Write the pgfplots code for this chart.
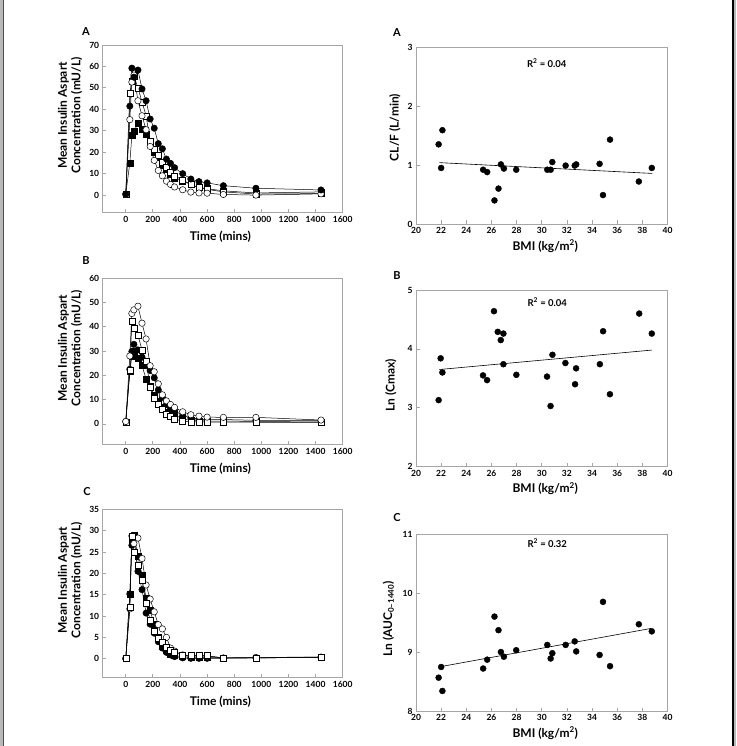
\documentclass[border=0pt]{standalone}
\usepackage{fontspec}
\setmainfont{Lato}
\usepackage{pgfplots}
\usepackage{pgfplotstable}
\pgfplotsset{compat=1.18}

% concentration-time data (mU/L)
\pgfplotstableread{
t fc oc fs os
0 0.5 0.3 0.5 0.5
30 41.5 35.2 15 47.3
45 59.2 52.7 27.8 53
60 55 56 29.8 55.5
90 58.3 44 33.3 50
120 49.5 37 30.5 43.5
150 44 30.5 28.5 37
180 35.5 22.7 24.5 25
210 31.2 16.2 20 21.5
240 24 11.5 17.5 18.5
270 21.6 9 14 15.5
300 16.8 6.5 12 13
330 14.8 5 9.5 10.8
360 12.8 3.8 7.8 9
420 10 2.5 6.5 7
480 7.5 1.4 5 5
540 6.3 1 3.5 3.5
600 5.7 0.9 3 2.7
720 4.4 0.3 2 1.5
960 3.2 0 1 0.5
1440 2.4 0.6 1.5 0.7
}\concA
\pgfplotstableread{
t fc oc fs os
0 1 1 0.8 0.7
30 22.5 28 21.5 22
45 29.8 45.5 28 42.5
60 32.8 47 30 39.5
90 30.5 48.5 27 36.5
120 27.5 41.5 24 30.5
150 24 35 18.5 26
180 22 24 15.5 15
210 19 21.5 12 10.5
240 14 16.5 9.5 8
270 11 12 7 6
300 8 9.5 5 4
330 6.5 8 4.5 3
360 5.5 6.8 3.8 2
420 3.5 5 2 1.2
480 2.5 3.8 1.5 0.8
540 2 3.2 1.3 0.8
600 1.8 2.8 1.2 0.8
720 1.8 2.7 1.2 0.7
960 1.5 2.7 1 0.7
1440 1.3 1.6 0.8 0.5
}\concB
\pgfplotstableread{
t fc oc fs os
0 0 0.1 0 0.1
30 15.2 11.7 15.2 12
45 26.6 28.8 27 28.8
60 28.9 27 29 25
90 20.5 28.3 24 22
120 16.2 23.5 19.5 18.5
150 10.7 17.3 14.2 13
180 8.1 14 11.3 9
210 6 11 8 6.5
240 4 8 5 4.8
270 2.5 7 3 3.8
300 1.5 5 2 2.8
330 0.9 2.5 1 2
360 0.5 1.8 0.7 1.5
420 0.2 0.9 0.5 0.8
480 0.1 0.6 0.3 0.7
540 0.1 0.7 0.4 0.8
600 0.1 0.6 0.3 0.7
720 0.1 0.2 0.2 0.2
960 0.2 0.3 0.2 0.2
1440 0.3 0.4 0.3 0.4
}\concC

% BMI scatter data
\pgfplotstableread{
bmi cl
21.8 1.35
22.0 0.95
22.1 1.59
25.34 0.92
25.66 0.88
26.24 0.40
26.56 0.60
26.75 1.01
26.99 0.94
27.97 0.92
30.44 0.92
30.71 0.92
30.84 1.05
31.9 0.99
32.62 0.99
32.74 1.01
34.6 1.02
34.87 0.49
35.43 1.43
37.72 0.72
38.75 0.95
}\clA
\pgfplotstableread{
bmi cmax
21.8 3.13
21.96 3.84
22.1 3.60
25.33 3.55
25.65 3.47
26.2 4.64
26.5 4.29
26.74 4.15
26.95 4.26
26.95 3.74
27.98 3.56
30.42 3.53
30.7 3.03
30.85 3.90
31.88 3.76
32.65 3.40
32.73 3.67
34.62 3.74
34.88 4.30
35.42 3.23
37.75 4.60
38.75 4.26
}\cmaxB
\pgfplotstableread{
bmi auc
21.8 8.565
22.0 8.746
22.1 8.34
25.34 8.72
25.66 8.87
26.24 9.60
26.56 9.37
26.75 9.0
26.99 8.92
27.97 9.03
30.44 9.12
30.71 8.89
30.84 8.98
31.9 9.12
32.62 9.18
32.74 9.01
34.6 8.95
34.87 9.85
35.43 8.76
37.72 9.47
38.75 9.35
}\aucC

\pgfplotsset{
  panel/.style={
    scale only axis, clip=false,
    axis line style={gray!70, line width=0.8pt},
    tick style={gray!70, line width=0.8pt},
    tick align=inside, major tick length=3.5pt,
    xtick pos=bottom, ytick pos=left,
    /pgf/number format/assume math mode=true,
    /pgf/number format/1000 sep={},
    ticklabel style={font=\bfseries\fontsize{8.5}{10}\selectfont},
    label style={font=\bfseries\fontsize{12}{13.5}\selectfont},
  },
  conc/.style={
    panel, width=240pt,
    xmin=-170, xmax=1600, xtick={0,200,...,1600},
    xlabel={Time (mins)},
    xlabel style={at={(axis description cs:0.49,0)}, anchor=center, yshift=-24pt},
    ylabel={Mean Insulin Aspart\\Concentration (mU/L)},
    ylabel style={align=center, at={(axis description cs:-0.136,0.58)}, anchor=center},
  },
  bmi/.style={
    panel, width=251.5pt, height=177pt,
    xmin=20, xmax=40, xtick={20,22,...,40},
    xlabel={BMI (kg/m\textsuperscript{2})},
    xlabel style={at={(axis description cs:0.514,0)}, anchor=center, yshift=-22pt},
  },
  fc/.style={black, line width=0.5pt, mark=*, mark size=3.2pt, mark options={fill=black, solid}},
  oc/.style={black, line width=0.5pt, mark=*, mark size=3.2pt, mark options={fill=white, solid}},
  fs/.style={black, line width=0.5pt, mark=square*, mark size=3pt, mark options={fill=black, solid}},
  os/.style={black, line width=0.5pt, mark=square*, mark size=3pt, mark options={fill=white, solid}},
  dot/.style={only marks, mark=*, mark size=3pt, black},
}
\tikzset{
  rsq/.style={font=\bfseries\fontsize{9.5}{11}\selectfont},
  lett/.style={font=\bfseries\fontsize{11}{12}\selectfont},
}

\begin{document}
\begin{tikzpicture}
\fill[white] (0pt,0pt) rectangle (736pt,-746pt);
\path[use as bounding box] (0pt,0pt) rectangle (736pt,-746pt);
\fill[gray!55] (0pt,0pt) rectangle (3pt,-746pt);
\draw[black!70, line width=0.8pt] (3pt,0pt) -- (3pt,-746pt);
\fill[gray!55] (733pt,0pt) rectangle (736pt,-746pt);
\draw[black, line width=1.5pt] (733pt,0pt) -- (733pt,-746pt);

\node[lett] at (86pt,-31.7pt) {A};
\node[lett] at (86pt,-260.7pt) {B};
\node[lett] at (87pt,-492pt) {C};
\node[lett] at (397pt,-32.7pt) {A};
\node[lett] at (397pt,-276pt) {B};
\node[lett] at (397pt,-518pt) {C};

% left A
\begin{axis}[conc, at={(102.7pt,-45pt)}, anchor=north west, height=167.7pt,
  ymin=-8.2, ymax=70, ytick={0,10,...,70}]
\addplot[fs] table[x=t, y=fs] {\concA};
\addplot[os] table[x=t, y=os] {\concA};
\addplot[oc] table[x=t, y=oc] {\concA};
\addplot[fc] table[x=t, y=fc] {\concA};
\end{axis}

% left B
\begin{axis}[conc, at={(102.7pt,-278.3pt)}, anchor=north west, height=166pt,
  ymin=-8.4, ymax=60, ytick={0,10,...,60}]
\addplot[fs] table[x=t, y=fs] {\concB};
\addplot[fc] table[x=t, y=fc] {\concB};
\addplot[os] table[x=t, y=os] {\concB};
\addplot[oc] table[x=t, y=oc] {\concB};
\end{axis}

% left C
\begin{axis}[conc, at={(102.7pt,-509.5pt)}, anchor=north west, height=168.2pt,
  ymin=-4.45, ymax=35, ytick={0,5,...,35}]
\addplot[fc] table[x=t, y=fc] {\concC};
\addplot[fs] table[x=t, y=fs] {\concC};
\addplot[oc] table[x=t, y=oc] {\concC};
\addplot[os] table[x=t, y=os] {\concC};
\end{axis}

% right A
\begin{axis}[bmi, at={(416pt,-47pt)}, anchor=north west,
  ymin=0, ymax=3, ytick={0,1,2,3},
  ylabel={CL/F (L/min)},
  ylabel style={at={(axis description cs:-0.084,0.545)}, anchor=center}]
\addplot[dot] table[x=bmi, y=cl] {\clA};
\addplot[black, line width=0.6pt] coordinates {(21.86,1.04) (38.8,0.857)};
\node[rsq] at (rel axis cs:0.52,0.91) {R\textsuperscript{2} = 0.04};
\end{axis}

% right B
\begin{axis}[bmi, at={(416pt,-290pt)}, anchor=north west, height=176.7pt,
  ymin=2, ymax=5, ytick={2,3,4,5},
  ylabel={Ln (Cmax)},
  ylabel style={at={(axis description cs:-0.1,0.46)}, anchor=center}]
\addplot[dot] table[x=bmi, y=cmax] {\cmaxB};
\addplot[black, line width=0.6pt] coordinates {(21.86,3.65) (38.75,3.98)};
\node[rsq] at (rel axis cs:0.522,0.932) {R\textsuperscript{2} = 0.04};
\end{axis}

% right C
\begin{axis}[bmi, at={(416pt,-534pt)}, anchor=north west,
  ymin=8, ymax=11, ytick={8,9,10,11},
  ylabel={Ln (AUC\textsubscript{0–1440})},
  ylabel style={at={(axis description cs:-0.11,0.52)}, anchor=center}]
\addplot[dot] table[x=bmi, y=auc] {\aucC};
\addplot[black, line width=0.6pt] coordinates {(21.9,8.75) (38.7,9.40)};
\node[rsq] at (rel axis cs:0.522,0.949) {R\textsuperscript{2} = 0.32};
\end{axis}
\end{tikzpicture}
\end{document}
